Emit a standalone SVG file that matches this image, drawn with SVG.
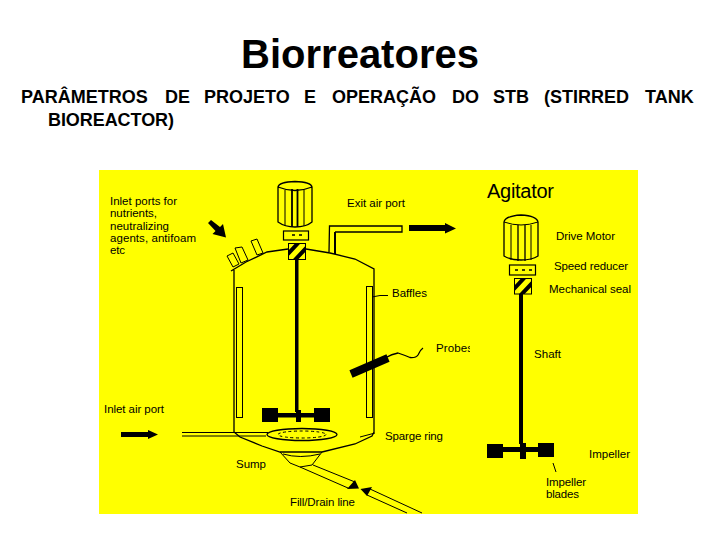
<svg xmlns="http://www.w3.org/2000/svg" width="720" height="540" viewBox="0 0 720 540">
<style>
text{font-family:"Liberation Sans",Arial,sans-serif;fill:#000}
.l{font-size:11.5px}
.t{fill:none;stroke:#000;stroke-width:1}
.m{fill:none;stroke:#000;stroke-width:1.3}
.k{fill:#000;stroke:none}
.h{fill:#ff0;stroke:#000;stroke-width:1.2}
</style>
<defs>
<clipPath id="pc"><rect x="430" y="335" width="40" height="25"/></clipPath>
<clipPath id="s1"><rect x="288" y="243" width="18" height="16"/></clipPath>
<clipPath id="s2"><rect x="514" y="278" width="18" height="16"/></clipPath>
</defs>
<rect width="720" height="540" fill="#fff"/>
<rect x="99" y="170" width="539" height="344" fill="#ff0"/>
<text id="title" x="360" y="68" font-size="40" font-weight="bold" text-anchor="middle">Biorreatores</text>
<g id="subtitle" font-size="18" font-weight="bold">
<text x="21" y="103">PARÂMETROS</text><text x="165" y="103">DE</text><text x="204" y="103">PROJETO</text><text x="304" y="103">E</text><text x="332" y="103">OPERAÇÃO</text><text x="452" y="103">DO</text><text x="493" y="103">STB</text><text x="544" y="103">(STIRRED</text><text x="645" y="103">TANK</text>
<text x="48" y="126" textLength="126">BIOREACTOR)</text>
</g>

<g id="vessel">
<path class="m" d="M231 271L246 262L267 252L288 249M306 249L330 253L355 259L374 269V432L372 436L355 444L322 452L280 452L262 446L240 437L234 432V270"/>
<path class="t" d="M280 452L290 463L300 467L312 465L322 452M283 454Q300 459 320 454"/>
<rect class="t" x="236.500" y="287.500" width="6" height="130"/>
<rect class="t" x="366.500" y="286.500" width="6" height="131"/>
<path class="t" d="M227 256L233 253L239 264L233 267ZM235 248L242 247L248 260L241 263ZM251 241L257 239L263 253L257 255Z"/>
</g>
<g id="exit-pipe">
<path class="m" d="M329 252L329.500 226H402V232H335"/>
<path d="M335 232V254" stroke="#000" stroke-width="2" fill="none"/>
</g>
<g id="motor-left">
<path class="m" d="M278 187Q279 182 295 181.500Q311 182 312 187V222Q306 227 295 227Q285 227 278 222ZM278 187Q295 194 312 187"/>
<path class="t" d="M285 190V226M304 190V226"/>
<path d="M292 189V227M297.500 189V227" stroke="#000" stroke-width="1.800"/>
<rect class="h" x="283.500" y="231" width="25" height="9"/>
<path d="M292 235h3M299 235h3" stroke="#000" stroke-width="1.500"/>
<rect x="288" y="243" width="18" height="16" fill="#ff0"/>
<g clip-path="url(#s1)"><path d="M286 256L300 241M293 262L310 244" stroke="#000" stroke-width="4"/></g>
<rect x="288.500" y="243.500" width="17" height="16" fill="none" stroke="#000"/>
<rect class="k" x="295" y="259" width="3.500" height="153"/>
</g>
<g id="impeller-left">
<rect class="k" x="262" y="408" width="16" height="14"/>
<rect class="k" x="314" y="408" width="16" height="14"/>
<rect class="k" x="278" y="413" width="36" height="4.500"/>
<rect class="k" x="296" y="410" width="5" height="12"/>
</g>
<g id="sparger">
<path class="t" d="M182 432.500H268M182 436H266"/>
<ellipse cx="302" cy="434.500" rx="35" ry="6" fill="#ff0" stroke="#000" stroke-width="1.300"/>
<ellipse cx="302" cy="434.500" rx="24" ry="3.500" fill="none" stroke="#000" stroke-dasharray="3 2.500"/>
</g>
<g id="probe">
<path d="M351 374L388 358" stroke="#000" stroke-width="8" fill="none"/>
<path d="M385 358Q392 354 398 353Q404 355 410 357.500Q416 358 418 355Q420 350 423 348" stroke="#000" stroke-width="1.300" fill="none"/>
</g>
<g id="fill-line">
<path class="t" d="M300 467L348 488M313 465L355 482M370 489L422 513M367 495L407 513"/>
<path class="k" d="M355 480L359 488.500L347 489ZM360.500 489L372 487L367 496Z"/>
</g>
<g id="motor-right">
<path class="m" d="M504 222Q505 216 521 215Q537 216 538 222V256Q532 260 521 260Q510 260 504 256Z"/>
<path class="t" d="M504 222Q521 228 538 222M511 225V260M531 225V260"/>
<path d="M518 225V261M525 225V261" stroke="#000" stroke-width="1.300"/>
<rect class="h" x="509.500" y="265" width="26" height="10"/>
<path d="M515 270h3M522 270h3M529 270h3" stroke="#000" stroke-width="1.500"/>
<rect x="514" y="278" width="18" height="16" fill="#ff0"/>
<g clip-path="url(#s2)"><path d="M512 291L526 276M519 297L536 279" stroke="#000" stroke-width="4"/></g>
<rect x="514.500" y="278.500" width="17" height="15.500" fill="none" stroke="#000"/>
<rect class="k" x="519" y="294" width="4" height="150"/>
</g>
<g id="impeller-right">
<rect class="k" x="487" y="444" width="16" height="14"/>
<rect class="k" x="538" y="443" width="16" height="14"/>
<rect class="k" x="503" y="447" width="35" height="5"/>
<rect class="k" x="520" y="443" width="6" height="16"/>
</g>
<g id="connectors">
<path class="t" d="M372 297L380 295.500H388M360 437L375 433M553 463L556 472"/>
<path class="k" d="M208 223L211 220L220 227L223 224L226 237.500L212.500 234L215.500 231Z"/>
<path class="k" d="M409 225H445V223L456 228.500L445 233.500V231H409Z"/>
<path class="k" d="M121 432H148V430L158 434.500L148 439V437H121Z"/>
</g>
<g id="labels" class="l">
<text x="110" y="205" textLength="67">Inlet ports for</text>
<text x="110" y="217" textLength="47">nutrients,</text>
<text x="110" y="230" textLength="59">neutralizing</text>
<text x="110" y="242" textLength="86">agents, antifoam</text>
<text x="110" y="254" textLength="15">etc</text>
<text x="347" y="207" textLength="58">Exit air port</text>
<text x="487" y="198" font-size="20" textLength="67">Agitator</text>
<text x="556" y="240" textLength="59">Drive Motor</text>
<text x="554" y="270" textLength="74">Speed reducer</text>
<text x="549" y="293" textLength="82">Mechanical seal</text>
<text x="392" y="297" textLength="35">Baffles</text>
<text x="436" y="352" clip-path="url(#pc)" textLength="37">Probes</text>
<text x="534" y="358" textLength="27">Shaft</text>
<text x="104" y="413" textLength="60">Inlet air port</text>
<text x="385" y="440" textLength="58">Sparge ring</text>
<text x="589" y="458" textLength="41">Impeller</text>
<text x="546" y="486" textLength="40">Impeller</text>
<text x="546" y="498" textLength="33">blades</text>
<text x="236" y="468" textLength="30">Sump</text>
<text x="290" y="506" textLength="65">Fill/Drain line</text>
</g>
</svg>
